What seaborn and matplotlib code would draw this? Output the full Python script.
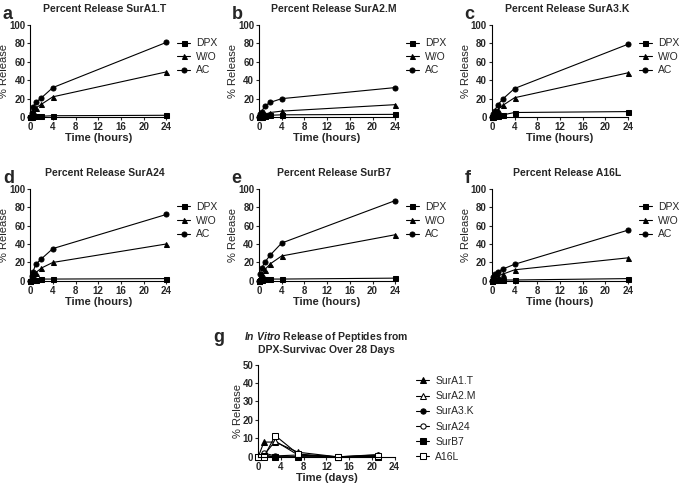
import numpy as np
import pandas as pd
import matplotlib.pyplot as plt
import seaborn as sb

sb.set_style('ticks')
plt.rcParams['font.family'] = ['Liberation Sans', 'DejaVu Sans']
plt.rcParams['mathtext.fontset'] = 'custom'
plt.rcParams['mathtext.it'] = 'Liberation Sans:italic:bold'
plt.rcParams['mathtext.rm'] = 'Liberation Sans:bold'

# tidspunkter (timer) for panel a-f
hours = [0, 0.25, 0.5, 1, 2, 4, 24]

# panel a-f: DPX, W/O, AC
sura1t_dpx = [0, 0.5, 1, 1, 1, 1.5, 2]
sura1t_wo = [0, 3, 7, 10, 14, 22, 49]
sura1t_ac = [0, 5, 11, 16, 21, 32, 81]

sura2m_dpx = [0, 0.3, 0.5, 1, 2, 2.5, 3]
sura2m_wo = [0, 1, 2, 3, 5, 6.5, 13.5]
sura2m_ac = [0, 3, 6, 12, 16, 20, 32]

sura3k_dpx = [0, 0.5, 1, 1.5, 2.5, 5, 6]
sura3k_wo = [0, 2, 4, 8, 13, 21, 48]
sura3k_ac = [0, 3, 7, 13, 20, 31, 79]

sura24_dpx = [0, 0.5, 1, 1.5, 2, 2, 2.5]
sura24_wo = [0, 3, 6, 9, 14, 20, 40]
sura24_ac = [0, 5, 10, 18, 24, 35, 72]

surb7_dpx = [0, 1, 1.5, 2, 2, 2, 3]
surb7_wo = [0, 4, 8, 12, 18.5, 27, 50]
surb7_ac = [0, 7, 14, 20, 28, 41, 87]

a16l_dpx = [0, 0.5, 1, 1, 1, 1, 2.5]
a16l_wo = [0, 2, 3, 5, 7.5, 12, 25]
a16l_ac = [0, 4, 8, 10, 13, 18, 55]

# panel g (dage)
days = [0, 1, 3, 7, 14, 21]
g_sura1t = [0, 8, 8, 2.5, 0, 0.5]
g_sura2m = [0, 1, 8.5, 1, 0, 1]
g_sura3k = [0, 1, 0, 0, 0, 0]
g_sura24 = [0, 2, 0.5, 1, 0, 1.2]
g_surb7 = [0, 0.5, 0, 0, 0, 0]
g_a16l = [0, 0, 11.5, 1.5, 0, 0.5]

panels = [
    ('a', 'Percent Release SurA1.T', sura1t_dpx, sura1t_wo, sura1t_ac),
    ('b', 'Percent Release SurA2.M', sura2m_dpx, sura2m_wo, sura2m_ac),
    ('c', 'Percent Release SurA3.K', sura3k_dpx, sura3k_wo, sura3k_ac),
    ('d', 'Percent Release SurA24', sura24_dpx, sura24_wo, sura24_ac),
    ('e', 'Percent Release SurB7', surb7_dpx, surb7_wo, surb7_ac),
    ('f', 'Percent Release A16L', a16l_dpx, a16l_wo, a16l_ac),
]

fig = plt.figure(figsize=(6.85, 4.86), dpi=100)

lefts = [0.044, 0.378, 0.718]
bottoms = [0.759, 0.422]
w, h = 0.199, 0.19


def style_axes(ax, ymax, ystep, xlabel):
    ax.set_xlim(0, 24)
    ax.set_ylim(0, ymax)
    ax.set_xticks(range(0, 25, 4))
    ax.set_yticks(range(0, ymax + 1, ystep))
    sb.despine(ax=ax)
    for s in ['left', 'bottom']:
        ax.spines[s].set_linewidth(0.8)
        ax.spines[s].set_color('black')
    ax.tick_params(length=2.5, width=0.8, pad=1, labelsize=7)
    for lab in ax.get_xticklabels() + ax.get_yticklabels():
        lab.set_fontweight('bold')
    ax.set_xlabel(xlabel, fontsize=8, fontweight='bold', labelpad=1)
    ax.set_ylabel('% Release', fontsize=8, labelpad=0)


for i, (letter, title, dpx, wo, ac) in enumerate(panels):
    ax = fig.add_axes([lefts[i % 3], bottoms[i // 3], w, h])
    n = len(hours)
    df = pd.DataFrame({'t': hours * 3,
                       'v': dpx + wo + ac,
                       'grp': ['DPX'] * n + ['W/O'] * n + ['AC'] * n})
    sb.lineplot(data=df, x='t', y='v', hue='grp', style='grp',
                palette=['black'] * 3, markers={'DPX': 's', 'W/O': '^', 'AC': 'o'},
                dashes=False, markersize=3.6, linewidth=0.8, ax=ax,
                markeredgecolor='black', clip_on=False)
    style_axes(ax, 100, 20, 'Time (hours)')
    ax.set_title(title, fontsize=7.5, fontweight='bold', pad=9, x=0.55)
    ax.text(-0.2, 1.2, letter, transform=ax.transAxes, fontsize=13,
            fontweight='bold', va='top', ha='left')
    ax.legend(loc='upper left', bbox_to_anchor=(1.05, 0.9), frameon=False,
              fontsize=7.5, handlelength=1.2, handletextpad=0.6,
              labelspacing=0.35, borderaxespad=0)

# panel g
ax = fig.add_axes([0.377, 0.06, w, h])
g_names = ['SurA1.T', 'SurA2.M', 'SurA3.K', 'SurA24', 'SurB7', 'A16L']
g_vals = [g_sura1t, g_sura2m, g_sura3k, g_sura24, g_surb7, g_a16l]
g_markers = ['^', '^', 'o', 'o', 's', 's']
g_fill = ['black', 'white', 'black', 'white', 'black', 'white']
for name, vals, m, fc in zip(g_names, g_vals, g_markers, g_fill):
    sb.lineplot(x=days, y=vals, marker=m, color='black', markerfacecolor=fc,
                markeredgecolor='black', markersize=3.8, linewidth=0.8,
                label=name, ax=ax, clip_on=False)
style_axes(ax, 50, 10, 'Time (days)')
ax.set_title('$\\it{In\\ Vitro}$ Release of Peptides from\nDPX-Survivac Over 28 Days',
             fontsize=7.5, fontweight='bold', pad=8)
ax.text(-0.33, 1.38, 'g', transform=ax.transAxes, fontsize=13,
        fontweight='bold', va='top', ha='left')
ax.legend(loc='upper left', bbox_to_anchor=(1.13, 0.92), frameon=False,
          fontsize=7.5, handlelength=1.2, handletextpad=0.6,
          labelspacing=0.5, borderaxespad=0)

plt.savefig('out.png', dpi=100)
